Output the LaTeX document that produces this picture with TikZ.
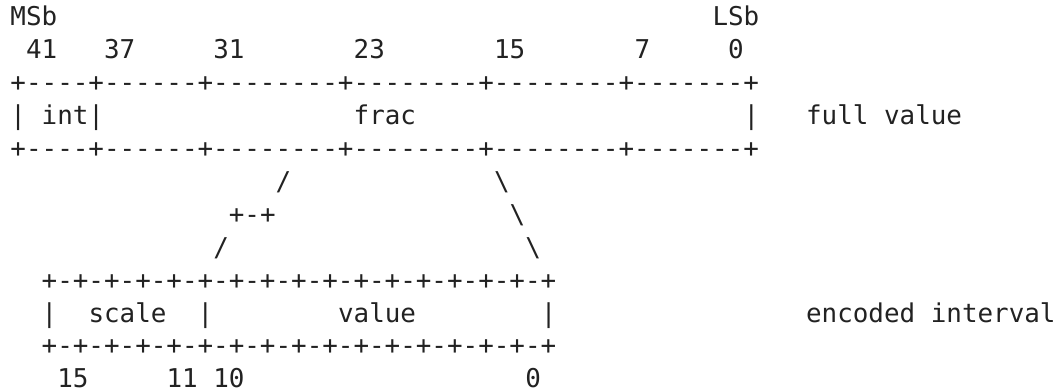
\documentclass[tikz,border=0pt]{standalone}
\usepackage{fontspec}
\setmonofont{DejaVu Sans Mono}
\definecolor{ink}{HTML}{222222}
\tikzset{
  txt/.style={anchor=base west, inner sep=0pt, outer sep=0pt, text=ink,
    font=\ttfamily\fontsize{25.9}{32.9}\selectfont}
}
\begin{document}
\begin{tikzpicture}[x=15.6pt, y=-32.9pt]
\useasboundingbox (-0.673,-0.790) rectangle (67.147,11.064);
% row 0
\node[txt] (msb) at (0,0) {MSb};
\node[txt] (lsb) at (45,0) {LSb};
% row 1: bit numbers of full value
\node[txt] (b41) at (1,1) {41};
\node[txt] (b37) at (6,1) {37};
\node[txt] (b31) at (13,1) {31};
\node[txt] (b23) at (22,1) {23};
\node[txt] (b15) at (31,1) {15};
\node[txt] (b7) at (40,1) {7};
\node[txt] (b0) at (46,1) {0};
% rows 2-4: full value box
\node[txt] (ftop) at (0,2) {+----+------+--------+--------+--------+-------+};
\node[txt] (fint) at (0,3) {|\ int|};
\node[txt] (ffrac) at (22,3) {frac};
\node[txt] (fend) at (47,3) {|};
\node[txt] (flabel) at (51,3) {full\ value};
\node[txt] (fbot) at (0,4) {+----+------+--------+--------+--------+-------+};
% rows 5-7: mapping lines
\node[txt] (l1) at (17,5) {/};
\node[txt] (r1) at (31,5) {\textbackslash};
\node[txt] (lmid) at (14,6) {+-+};
\node[txt] (r2) at (32,6) {\textbackslash};
\node[txt] (l2) at (13,7) {/};
\node[txt] (r3) at (33,7) {\textbackslash};
% rows 8-10: encoded interval box
\node[txt] (etop) at (2,8) {+-+-+-+-+-+-+-+-+-+-+-+-+-+-+-+-+};
\node[txt] (ebar1) at (2,9) {|};
\node[txt] (escale) at (5,9) {scale};
\node[txt] (ebar2) at (12,9) {|};
\node[txt] (evalue) at (21,9) {value};
\node[txt] (ebar3) at (34,9) {|};
\node[txt] (elabel) at (51,9) {encoded\ interval};
\node[txt] (ebot) at (2,10) {+-+-+-+-+-+-+-+-+-+-+-+-+-+-+-+-+};
% row 11: bit numbers of encoded interval
\node[txt] (e15) at (3,11) {15};
\node[txt] (e11) at (10,11) {11};
\node[txt] (e10) at (13,11) {10};
\node[txt] (e0) at (33,11) {0};
\end{tikzpicture}
\end{document}
